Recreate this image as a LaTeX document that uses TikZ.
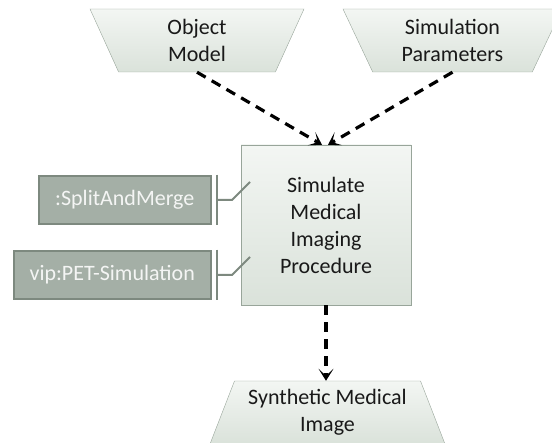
\documentclass[tikz,border=0pt]{standalone}
\usepackage{fontspec}
\setmainfont{Carlito}
\usetikzlibrary{shapes.geometric,arrows.meta}
\definecolor{boxline}{HTML}{98A59A}
\definecolor{boxtop}{HTML}{F3F6F3}
\definecolor{boxbot}{HTML}{DAE2DA}
\definecolor{tagfill}{HTML}{A4AFA6}
\definecolor{taggrey}{HTML}{7D897F}
\definecolor{tagtext}{HTML}{F4F5F4}
\begin{document}
\begin{tikzpicture}[x=1pt,y=-1pt,
  txt/.style={font=\fontsize{22}{27}\selectfont,align=center,text=black!90},
  data/.style={txt,trapezium,trapezium stretches body,draw=boxline,top color=boxtop,bottom color=boxbot,minimum height=63pt,inner xsep=2pt,inner ysep=0pt},
  indata/.style={data,shape border rotate=180},
  procbox/.style={txt,draw=boxline,top color=boxtop,bottom color=boxbot,minimum width=170pt,minimum height=160pt},
  tagbox/.style={txt,text=tagtext,draw=taggrey,line width=2.5pt,fill=tagfill,minimum height=48pt,anchor=east},
  tagbar/.style={taggrey,line width=2.5pt},
  taglink/.style={taggrey,line width=2pt},
  flow/.style={dashed,dash pattern=on 10pt off 7pt,line width=3.2pt,-{Stealth[length=12pt,width=15pt,inset=7pt]}}]
  \useasboundingbox (0,0) rectangle (552,443);
  \node[indata,trapezium angle=56,minimum width=214pt] (om) at (197,40.5) {Object\\Model};
  \node[indata,trapezium angle=55,minimum width=219pt] (sp) at (452.5,40.5) {Simulation\\Parameters};
  \node[procbox] (proc) at (326,225) {Simulate\\Medical\\Imaging\\Procedure};
  \node[data,trapezium angle=62,minimum width=235pt] (img) at (327.5,412.5) {Synthetic Medical\\Image};
  \node[tagbox,minimum width=172pt] (sam) at (212,200) {:SplitAndMerge};
  \node[tagbox,minimum width=197pt] (pet) at (212,275) {vip:PET-Simulation};
  \draw[tagbar] ([xshift=5pt]sam.north east) -- ([xshift=5pt]sam.south east);
  \draw[taglink] ([xshift=5pt]sam.east) -- ++(15,0) -- ++(18,-18);
  \draw[tagbar] ([xshift=5pt]pet.north east) -- ([xshift=5pt]pet.south east);
  \draw[taglink] ([xshift=5pt]pet.east) -- ++(15,0) -- ++(18,-18);
  \draw[flow] (om.south) -- ([xshift=-4pt]proc.north);
  \draw[flow] (sp.south) -- ([xshift=2pt]proc.north);
  \draw[flow] (proc.south) -- (proc.south |- img.north);
\end{tikzpicture}
\end{document}
